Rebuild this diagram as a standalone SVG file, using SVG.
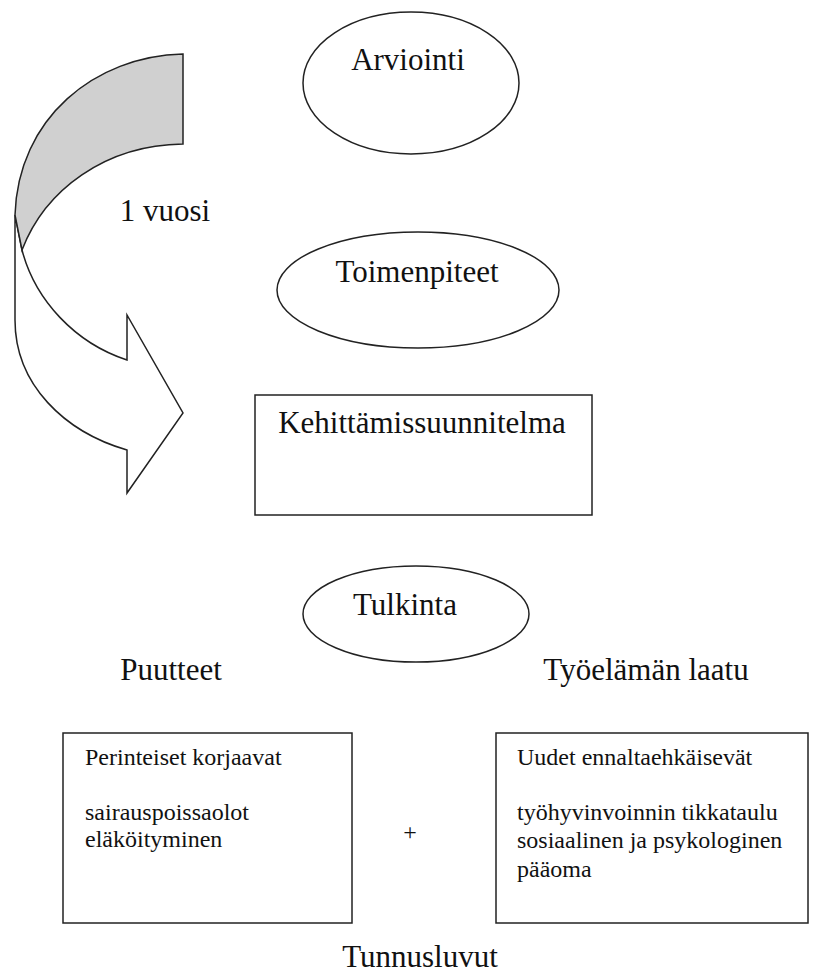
<svg xmlns="http://www.w3.org/2000/svg" width="822" height="978" viewBox="0 0 822 978">
<style>
.s{stroke:#222;stroke-width:1.5;fill:#fff}
.t{font-family:"Liberation Serif","Times New Roman",serif;font-size:31px;fill:#111;text-anchor:middle}
.m{font-family:"Liberation Serif","Times New Roman",serif;font-size:24px;fill:#111}
</style>
<rect width="822" height="978" fill="#fff"/>
<g id="cycle-arrow">
<path class="s" d="M15,215 L15,320 C15,385 65,432 127,450 L127,493 L183,413 L127,315 L127,360 C75,343 35,300 22,250 Z"/>
<path class="s" style="fill:#d0d0d0" d="M183,54 C95,56 18,118 15,215 L22,250 C45,190 105,145 183,144 Z"/>
<text class="t" x="165" y="221">1 vuosi</text>
</g>
<g id="arviointi">
<ellipse class="s" cx="411" cy="83" rx="108" ry="71"/>
<text class="t" x="408" y="70">Arviointi</text>
</g>
<g id="toimenpiteet">
<ellipse class="s" cx="418" cy="290" rx="141" ry="58"/>
<text class="t" x="417" y="282">Toimenpiteet</text>
</g>
<g id="kehittamissuunnitelma">
<rect class="s" x="255" y="395" width="337" height="120"/>
<text class="t" x="422" y="433">Kehittämissuunnitelma</text>
</g>
<g id="tulkinta">
<ellipse class="s" cx="416" cy="614" rx="113" ry="48"/>
<text class="t" x="405" y="615">Tulkinta</text>
</g>
<g id="puutteet">
<text class="t" x="171" y="680">Puutteet</text>
</g>
<g id="tyoelaman-laatu">
<text class="t" x="646" y="680">Työelämän laatu</text>
</g>
<g id="perinteiset">
<rect class="s" x="63" y="733" width="289" height="190"/>
<text class="m" x="85" y="765">Perinteiset korjaavat</text>
<text class="m" x="85" y="820">sairauspoissaolot</text>
<text class="m" x="85" y="847">eläköityminen</text>
</g>
<g id="plus">
<text class="m" x="410" y="840" text-anchor="middle">+</text>
</g>
<g id="uudet">
<rect class="s" x="496" y="733" width="312" height="190"/>
<text class="m" x="517" y="765">Uudet ennaltaehkäisevät</text>
<text class="m" x="517" y="820">työhyvinvoinnin tikkataulu</text>
<text class="m" x="517" y="848">sosiaalinen ja psykologinen</text>
<text class="m" x="517" y="877">pääoma</text>
</g>
<g id="tunnusluvut">
<text class="t" x="420" y="967">Tunnusluvut</text>
</g>
<g id="connectors"></g>
</svg>
